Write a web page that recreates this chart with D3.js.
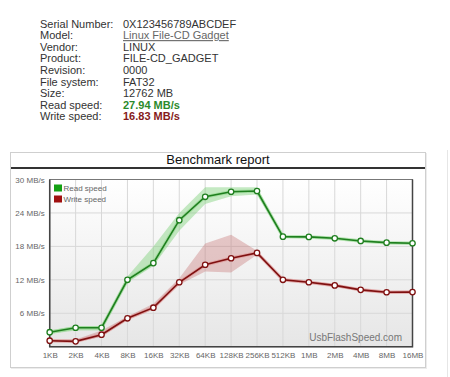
<!DOCTYPE html>
<html>
<head>
<meta charset="utf-8">
<script src="https://cdn.jsdelivr.net/npm/d3@7"></script>
<style>
  body { margin: 0; background: #fff; font-family: "Liberation Sans", Arial, sans-serif; }
  #chart { position: absolute; left: 0; top: 0; }
</style>
</head>
<body>
<div id="chart"></div>
<script>
(function () {
   // device info rows
   const infoLabels = ['Serial Number:', 'Model:', 'Vendor:', 'Product:', 'Revision:', 'File system:', 'Size:', 'Read speed:', 'Write speed:'];
   const infoValues = ['0X123456789ABCDEF', 'Linux File-CD Gadget', 'LINUX', 'FILE-CD_GADGET', '0000', 'FAT32', '12762 MB', '27.94 MB/s', '16.83 MB/s'];

   // block sizes on the x axis
   const blockSizes = ['1KB', '2KB', '4KB', '8KB', '16KB', '32KB', '64KB', '128KB', '256KB', '512KB', '1MB', '2MB', '4MB', '8MB', '16MB'];

   // average speeds (MB/s)
   const readSpeed  = [2.6, 3.4, 3.4, 12.0, 15.0, 22.7, 26.9, 27.8, 27.94, 19.75, 19.7, 19.45, 18.97, 18.67, 18.56];
   const writeSpeed = [1.08, 0.96, 2.15, 5.1, 7.0, 11.56, 14.7, 15.87, 16.83, 12.0, 11.56, 11.0, 10.2, 9.77, 9.8];

   // min / max spread of runs (MB/s)
   const readMin  = [2.3, 2.9, 2.9, 11.5, 14.5, 20.8, 25.6, 27.0, 27.3, 19.5, 19.5, 19.25, 18.8, 18.5, 18.4];
   const readMax  = [2.9, 3.7, 3.7, 12.6, 18.0, 24.0, 28.6, 28.6, 28.6, 19.95, 19.9, 19.65, 19.15, 18.85, 18.75];
   const writeMin = [0.85, 0.75, 1.8, 4.8, 6.7, 11.1, 13.5, 13.3, 16.5, 11.8, 11.35, 10.75, 9.95, 9.55, 9.6];
   const writeMax = [1.3, 1.3, 2.9, 5.4, 7.7, 12.3, 18.5, 20.1, 17.2, 12.25, 11.8, 11.25, 10.45, 10.0, 10.0];

   const yTicks = [6, 12, 18, 24, 30];

   const width = 450, height = 377;
   const svg = d3.select('#chart').append('svg')
      .attr('width', width)
      .attr('height', height);

   // info table
   const info = svg.append('g').style('font-size', '11px');
   infoLabels.forEach((lab, i) => {
      const y = 27.5 + i * 11.6;
      info.append('text').attr('x', 40).attr('y', y).attr('fill', '#333').text(lab);
      const t = info.append('text').attr('x', 123).attr('y', y).text(infoValues[i]);
      if (i === 1) t.attr('fill', '#666').attr('text-decoration', 'underline');
      else if (i === 7) t.attr('fill', '#2b8a2b').attr('font-weight', 'bold');
      else if (i === 8) t.attr('fill', '#851a1a').attr('font-weight', 'bold');
      else t.attr('fill', '#333');
   });

   // faint page divider on the right
   svg.append('line').attr('x1', 447.5).attr('x2', 447.5).attr('y1', 150).attr('y2', 377)
      .attr('stroke', '#e6e6e6');

   const defs = svg.append('defs');
   const bg = defs.append('linearGradient').attr('id', 'plotbg').attr('x1', 0).attr('x2', 0).attr('y1', 0).attr('y2', 1);
   bg.append('stop').attr('offset', '0%').attr('stop-color', '#ffffff');
   bg.append('stop').attr('offset', '100%').attr('stop-color', '#e6e6e6');

   // outer frame
   svg.append('rect').attr('x', 11).attr('y', 153).attr('width', 416).attr('height', 216)
      .attr('fill', '#ececec');
   svg.append('rect').attr('x', 10.5).attr('y', 152.5).attr('width', 415).attr('height', 215)
      .attr('fill', '#fff').attr('stroke', '#cfcfcf');

   // title bar
   svg.append('line').attr('x1', 11).attr('x2', 425).attr('y1', 168).attr('y2', 168)
      .attr('stroke', '#333').attr('stroke-width', 2);
   svg.append('text').attr('x', 218).attr('y', 164).attr('text-anchor', 'middle')
      .style('font-size', '13px').attr('fill', '#111').text('Benchmark report');

   // scales
   const x = d3.scalePoint().domain(blockSizes).range([49.7, 412.5]);
   const y = d3.scaleLinear().domain([0, 30]).range([346.7, 179.5]);

   // plot background
   svg.append('rect').attr('x', x.range()[0]).attr('y', y(30))
      .attr('width', x.range()[1] - x.range()[0]).attr('height', y(0) - y(30))
      .attr('fill', 'url(#plotbg)');

   // grid
   svg.append('g').selectAll('line').data(blockSizes).join('line')
      .attr('x1', d => x(d)).attr('x2', d => x(d))
      .attr('y1', y(30)).attr('y2', y(0))
      .attr('stroke', '#d8d8d8');
   svg.append('g').selectAll('line').data(yTicks).join('line')
      .attr('x1', x.range()[0]).attr('x2', x.range()[1])
      .attr('y1', d => y(d)).attr('y2', d => y(d))
      .attr('stroke', '#d8d8d8');

   // axes
   const yAxis = svg.append('g').attr('transform', `translate(${x.range()[0]},0)`)
      .call(d3.axisLeft(y).tickValues(yTicks).tickSize(0).tickPadding(5).tickFormat(d => d + ' MB/s'));
   yAxis.select('.domain').remove();
   yAxis.selectAll('text').style('font-size', '8px').attr('fill', '#666').style('font-family', '"Liberation Sans", Arial, sans-serif');

   const xAxis = svg.append('g').attr('transform', `translate(0,${y(0)})`)
      .call(d3.axisBottom(x).tickSize(0).tickPadding(6));
   xAxis.select('.domain').remove();
   xAxis.selectAll('text').style('font-size', '8px').attr('fill', '#666').style('font-family', '"Liberation Sans", Arial, sans-serif');

   // plot border
   svg.append('rect').attr('x', x.range()[0]).attr('y', y(30))
      .attr('width', x.range()[1] - x.range()[0]).attr('height', y(0) - y(30))
      .attr('fill', 'none').attr('stroke', '#777');
   svg.append('path')
      .attr('d', `M${x.range()[0]},${y(30)}V${y(0)}H${x.range()[1]}V${y(30)}`)
      .attr('fill', 'none').attr('stroke', '#444').attr('stroke-width', 1.5);

   // watermark
   svg.append('text').attr('x', 402).attr('y', 341).attr('text-anchor', 'end')
      .style('font-size', '10px').attr('fill', '#777').text('UsbFlashSpeed.com');

   // bands
   const area = (lo, hi) => d3.area()
      .x((d, i) => x(blockSizes[i]))
      .y0((d, i) => y(lo[i]))
      .y1((d, i) => y(hi[i]));

   svg.append('path').datum(readMin).attr('d', area(readMin, readMax))
      .attr('fill', '#7fd07a').attr('fill-opacity', 0.45);
   svg.append('path').datum(writeMin).attr('d', area(writeMin, writeMax))
      .attr('fill', '#c46a6a').attr('fill-opacity', 0.35);

   const line = d3.line().x((d, i) => x(blockSizes[i])).y(d => y(d));

   function drawSeries(values, color, halo) {
      svg.append('path').datum(values).attr('d', line)
         .attr('fill', 'none').attr('stroke', halo).attr('stroke-width', 3.5).attr('stroke-opacity', 0.6);
      svg.append('path').datum(values).attr('d', line)
         .attr('fill', 'none').attr('stroke', color).attr('stroke-width', 1.6);
      svg.append('g').selectAll('circle').data(values).join('circle')
         .attr('cx', (d, i) => x(blockSizes[i])).attr('cy', d => y(d)).attr('r', 2.7)
         .attr('fill', '#fff').attr('stroke', color).attr('stroke-width', 1.3);
   }
   drawSeries(readSpeed, '#1f7f1f', '#8fd98a');
   drawSeries(writeSpeed, '#7f1010', '#e09090');

   // legend
   const legend = svg.append('g').style('font-size', '8px');
   [['Read speed', '#13a013'], ['Write speed', '#a01010']].forEach((d, i) => {
      legend.append('rect').attr('x', 54).attr('y', 184.5 + i * 11).attr('width', 8).attr('height', 7)
         .attr('fill', d[1]);
      legend.append('text').attr('x', 63.5).attr('y', 191 + i * 11).attr('fill', '#666').text(d[0]);
   });
})();
</script>
</body>
</html>
